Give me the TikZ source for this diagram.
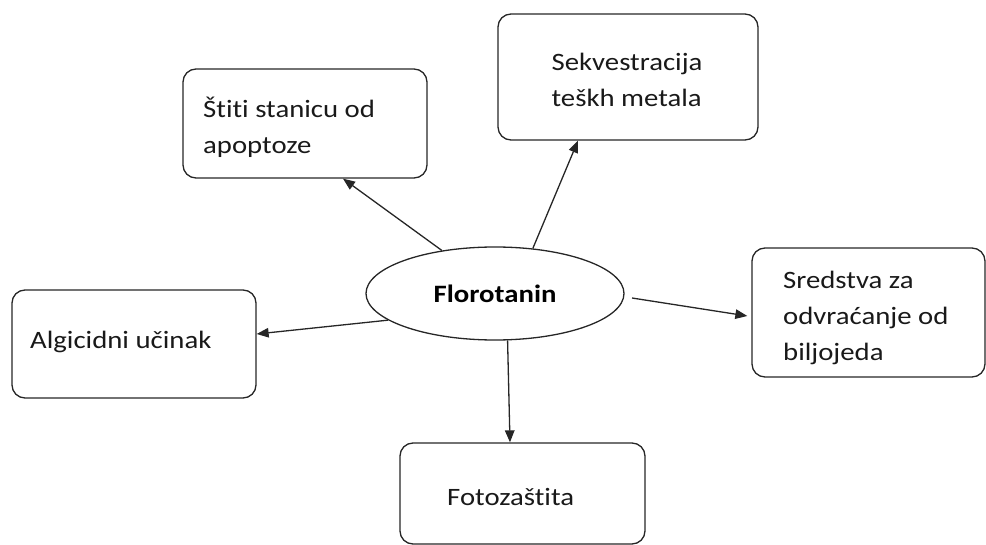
\documentclass[tikz,border=0pt]{standalone}
\usepackage{fontspec}
\setmainfont{Carlito}[FakeStretch=1.15,Ligatures=NoCommon]
\usetikzlibrary{arrows.meta,shapes.geometric,calc}
\tikzset{
  box/.style={draw=black!85, line width=1.3pt, rounded corners=13pt, inner sep=0pt},
  lbl/.style={font=\fontsize{25}{36}\selectfont, align=left, inner sep=0pt, text=black!90},
  arr/.style={draw=black!85, line width=1.3pt, -{Triangle[length=12pt,width=9.5pt]}},
}
\begin{document}
\begin{tikzpicture}[x=1pt,y=1pt]
\useasboundingbox (0,0) rectangle (986,-545);
\node[box, minimum width=244pt, minimum height=109pt] (b1) at (305,-123.5) {};
\node[box, minimum width=260pt, minimum height=126pt] (b2) at (628,-77) {};
\node[box, minimum width=244pt, minimum height=108pt] (b3) at (134,-344) {};
\node[box, minimum width=233pt, minimum height=129pt] (b4) at (868.5,-312.5) {};
\node[box, minimum width=245pt, minimum height=101pt] (b5) at (522.5,-493.5) {};
\node[lbl, anchor=west] (t1) at ($(b1.center)+(-102,-4)$) {Štiti stanicu od\\apoptoze};
\node[lbl] (t2) at ($(b2.center)+(-1,-3)$) {Sekvestracija\\teškh metala};
\node[lbl, anchor=west] (t3) at ($(b3.center)+(-104,2)$) {Algicidni učinak};
\node[lbl, anchor=west] (t4) at ($(b4.center)+(-85.5,-5)$) {Sredstva za\\odvraćanje od\\biljojeda};
\node[lbl, anchor=west] (t5) at ($(b5.center)+(-75.5,-3)$) {Fotozaštita};
\node[draw=black!85, line width=1.3pt, ellipse, minimum width=258pt, minimum height=93pt, inner sep=0pt, font=\fontsize{25}{36}\selectfont\bfseries] (flo) at (495,-293.5) {Florotanin};
\draw[arr] (flo.141) -- ($(b1.south)+(38,0)$);
\draw[arr] (flo.50) -- ($(b2.south)+(-50,0)$);
\draw[arr] (flo.194) -- ($(b3.east)+(0,10)$);
\draw[arr] ($(flo.-2)+(8,0)$) -- ($(b4.west)+(-4,-3.5)$);
\draw[arr] (flo.-75) -- ($(b5.north)+(-12.5,0)$);
\end{tikzpicture}
\end{document}
